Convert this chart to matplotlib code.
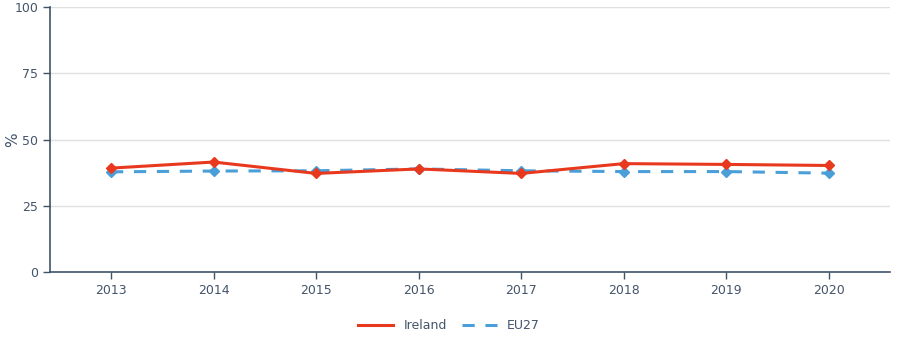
import matplotlib

matplotlib.use("Agg")
import matplotlib.pyplot as plt

YEARS = [2013, 2014, 2015, 2016, 2017, 2018, 2019, 2020]
IRELAND = [39.2, 41.5, 37.2, 38.9, 37.2, 40.9, 40.6, 40.2]
EU27 = [37.8, 38.1, 38.2, 38.9, 38.2, 37.9, 37.9, 37.3]
YTICKS = [0, 25, 50, 75, 100]

RED = "#e8391f"
BLUE = "#4a9fd8"
AXIS = "#3e5468"
TEXT = "#44546a"

fig = plt.figure(figsize=(8.98, 3.59), dpi=100)
ax = fig.add_axes([0.0557, 0.2423, 0.9353, 0.7382])

ax.plot(YEARS, IRELAND, "-D", color=RED, lw=2.2, ms=5, label="Ireland", zorder=3)
ax.plot(YEARS, EU27, "--D", color=BLUE, lw=2.2, ms=5, dashes=(4, 3.5), label="EU27", zorder=2)

ax.set_xlim(2012.405, 2020.595)
ax.set_ylim(0, 100)
ax.set_xticks(YEARS)
ax.set_yticks(YTICKS)
ax.grid(axis="y", color="#e0e0e0", lw=1)
ax.set_axisbelow(True)
for s in ("top", "right"):
    ax.spines[s].set_visible(False)
for s in ("left", "bottom"):
    ax.spines[s].set_color(AXIS)
    ax.spines[s].set_linewidth(1.2)
ax.tick_params(colors=AXIS, labelcolor=TEXT, labelsize=9, length=5, width=1)
ax.set_ylabel("%", color=TEXT, fontsize=11)
ax.yaxis.set_label_coords(-0.035, 0.5)

leg = fig.legend(loc="center", bbox_to_anchor=(0.5, 0.092), ncol=2, frameon=False,
                 fontsize=9, handlelength=2.8, columnspacing=1.2, markerscale=0)
for t in leg.get_texts():
    t.set_color(TEXT)
for h in leg.get_lines():
    h.set_marker("")

fig.savefig("out.png", dpi=100)
